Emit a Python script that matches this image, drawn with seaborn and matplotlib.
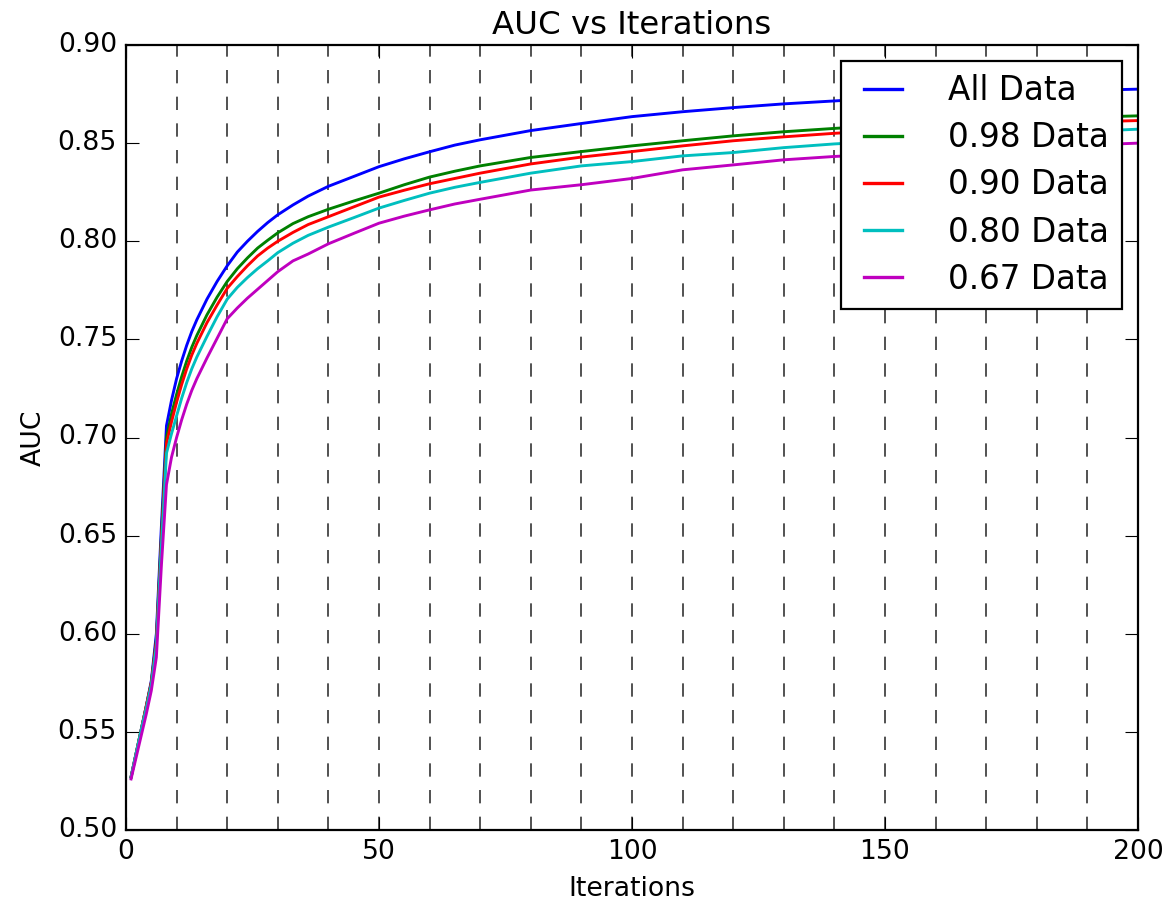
import matplotlib
matplotlib.use("Agg")
import matplotlib.pyplot as plt
from matplotlib.ticker import MultipleLocator, FormatStrFormatter
import seaborn as sns
import pandas as pd

iterations = [1, 2, 3, 4, 5, 6, 7, 8, 9, 10, 11, 12, 13, 14, 16, 18, 20, 22, 24, 26,
              28, 30, 33, 36, 40, 45, 50, 55, 60, 65, 70, 80, 90, 100, 110, 120, 130,
              140, 150, 160, 170, 180, 190, 200]

all_data = [0.527, 0.539, 0.551, 0.563, 0.576, 0.600, 0.655, 0.706, 0.719, 0.730,
            0.739, 0.747, 0.754, 0.760, 0.7705, 0.7795, 0.7875, 0.7945, 0.800, 0.805,
            0.8095, 0.8135, 0.8185, 0.823, 0.828, 0.833, 0.838, 0.842, 0.8456, 0.849,
            0.8517, 0.8564, 0.860, 0.8635, 0.866, 0.8681, 0.870, 0.8715, 0.873, 0.8743,
            0.8753, 0.8762, 0.8769, 0.8775]
data_098 = [0.527, 0.539, 0.551, 0.563, 0.575, 0.597, 0.650, 0.700, 0.712, 0.722,
            0.731, 0.739, 0.746, 0.752, 0.7625, 0.7715, 0.7795, 0.786, 0.7915, 0.7965,
            0.8005, 0.8043, 0.809, 0.8125, 0.8163, 0.8205, 0.8245, 0.8288, 0.8327,
            0.8357, 0.8384, 0.8427, 0.8457, 0.8486, 0.8512, 0.8537, 0.8558, 0.8575,
            0.859, 0.8603, 0.8614, 0.8623, 0.8632, 0.8639]
data_090 = [0.527, 0.539, 0.551, 0.563, 0.575, 0.596, 0.648, 0.697, 0.708, 0.718,
            0.727, 0.735, 0.742, 0.748, 0.7585, 0.7675, 0.776, 0.782, 0.7875, 0.7925,
            0.7965, 0.800, 0.8045, 0.8085, 0.8125, 0.8175, 0.8225, 0.826, 0.8293,
            0.832, 0.8347, 0.8394, 0.8429, 0.8457, 0.8486, 0.8512, 0.8532, 0.855,
            0.8565, 0.8578, 0.859, 0.860, 0.8608, 0.8615]
data_080 = [0.527, 0.539, 0.551, 0.562, 0.574, 0.594, 0.645, 0.692, 0.702, 0.711,
            0.720, 0.728, 0.735, 0.741, 0.7515, 0.7615, 0.7705, 0.7765, 0.7815, 0.786,
            0.790, 0.7942, 0.799, 0.803, 0.8072, 0.812, 0.8169, 0.8208, 0.8245,
            0.8275, 0.830, 0.8347, 0.8384, 0.8406, 0.8435, 0.8452, 0.8477, 0.8496,
            0.851, 0.8523, 0.8537, 0.855, 0.856, 0.8571]
data_067 = [0.526, 0.537, 0.548, 0.559, 0.571, 0.588, 0.635, 0.676, 0.690, 0.700,
            0.709, 0.717, 0.724, 0.730, 0.7405, 0.7505, 0.7605, 0.766, 0.771, 0.7755,
            0.780, 0.7845, 0.790, 0.7935, 0.7987, 0.804, 0.8092, 0.8128, 0.816,
            0.819, 0.8214, 0.8261, 0.8288, 0.832, 0.8364, 0.8389, 0.8415, 0.8432,
            0.8445, 0.8458, 0.847, 0.848, 0.849, 0.850]

series_names = ["All Data", "0.98 Data", "0.90 Data", "0.80 Data", "0.67 Data"]
series_values = [all_data, data_098, data_090, data_080, data_067]
series_colors = ["#0000ff", "#008000", "#ff0000", "#00bfbf", "#bf00bf"]

x_ticks = [0, 50, 100, 150, 200]
y_ticks = [0.50, 0.55, 0.60, 0.65, 0.70, 0.75, 0.80, 0.85, 0.90]

frames = []
for name, vals in zip(series_names, series_values):
    frames.append(pd.DataFrame({"Iterations": iterations, "AUC": vals, "Series": name}))
df = pd.concat(frames, ignore_index=True)

plt.style.use("classic")
plt.rcParams["font.family"] = ["DejaVu Sans"]

fig = plt.figure(figsize=(1167 / 160, 903 / 160), dpi=160, facecolor="white")
ax = fig.add_axes([126 / 1167, 1 - 830 / 903, (1138 - 126) / 1167, (830 - 45) / 903])
ax.set_facecolor("white")

sns.lineplot(data=df, x="Iterations", y="AUC", hue="Series", hue_order=series_names,
             palette=dict(zip(series_names, series_colors)), linewidth=1.3,
             ax=ax, legend=True, estimator=None, sort=True)

ax.set_xlim(0, 200)
ax.set_ylim(0.50, 0.90)
ax.set_xticks(x_ticks)
ax.set_yticks(y_ticks)
ax.yaxis.set_major_formatter(FormatStrFormatter("%.2f"))
ax.xaxis.set_minor_locator(MultipleLocator(10))
ax.tick_params(which="minor", length=0)
ax.tick_params(which="major", direction="in", top=True, right=True, labelsize=12, length=6)
ax.grid(True, which="both", axis="x", color="#555555", linestyle=(0, (6, 6)), linewidth=0.9)
ax.grid(False, axis="y")
ax.set_axisbelow(True)

ax.set_title("AUC vs Iterations", fontsize=14.6)
ax.set_xlabel("Iterations", fontsize=12)
ax.set_ylabel("AUC", fontsize=12)

handles, labels = ax.get_legend_handles_labels()
leg = ax.legend(handles, labels, loc="upper right", fontsize=14.7, frameon=True,
                fancybox=False, handlelength=1.75, handletextpad=1.1, labelspacing=0.43,
                borderaxespad=0.5)
leg.get_frame().set_edgecolor("black")
leg.get_frame().set_facecolor("white")
for line in leg.get_lines():
    line.set_linewidth(1.5)

fig.savefig("out.png", dpi=160, facecolor="white")
